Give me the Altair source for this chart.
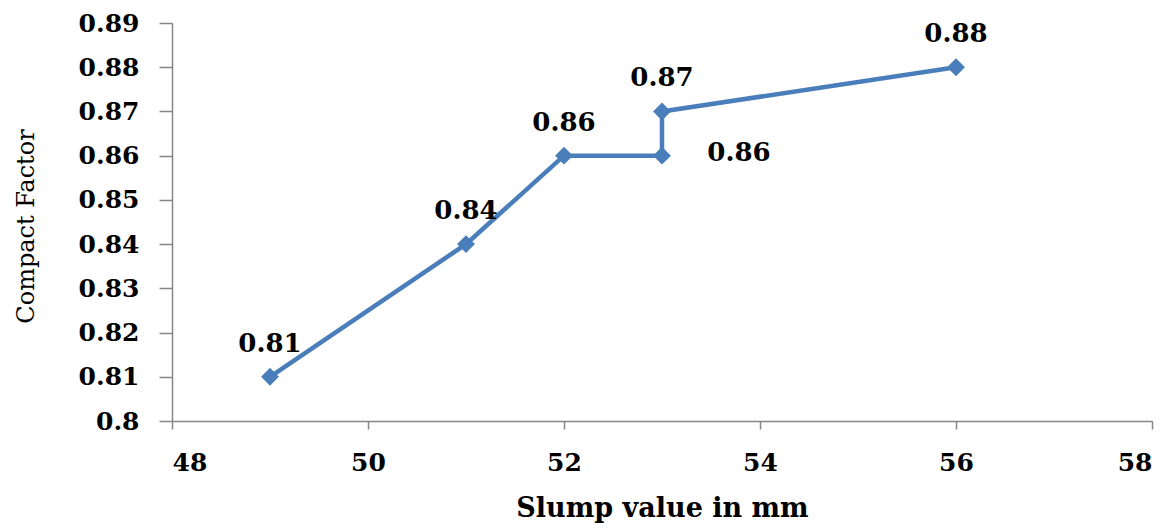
import altair as alt
import pandas as pd

slump = [49, 51, 52, 53, 53, 56]
compact = [0.81, 0.84, 0.86, 0.86, 0.87, 0.88]
order = [1, 2, 3, 4, 5, 6]
label_side = ["above", "above", "above", "right", "above", "above"]

df = pd.DataFrame({"slump": slump, "cf": compact, "ord": order, "side": label_side})
df["lab"] = df["cf"].map(lambda v: f"{v:.2f}")

FONT = "DejaVu Serif"
BLUE = "#4A7EBB"
GRAY = "#868686"

x = alt.X("slump:Q", scale=alt.Scale(domain=[48, 58], nice=False, zero=False),
          axis=alt.Axis(values=[48, 50, 52, 54, 56, 58], title="Slump value in mm",
                        grid=False, domainColor=GRAY, tickColor=GRAY, tickSize=8,
                        domainWidth=1.5, tickWidth=1.5,
                        labelFont=FONT, labelFontWeight="bold", labelFontSize=25,
                        labelColor="black", labelPadding=21,
                        titleFont=FONT, titleFontWeight="bold", titleFontSize=27,
                        titleColor="black", titlePadding=20))
y = alt.Y("cf:Q", scale=alt.Scale(domain=[0.8, 0.89], nice=False, zero=False),
          axis=alt.Axis(values=[0.8, 0.81, 0.82, 0.83, 0.84, 0.85, 0.86, 0.87, 0.88, 0.89],
                        labelExpr="datum.value == 0.8 ? '0.8' : format(datum.value, '.2f')",
                        title="Compact Factor", grid=False, domainColor=GRAY, tickColor=GRAY,
                        tickSize=13, domainWidth=1.5, tickWidth=1.5,
                        labelFont=FONT, labelFontWeight="bold", labelFontSize=25,
                        labelColor="black", labelPadding=20,
                        titleFont=FONT, titleFontWeight="normal", titleFontSize=24,
                        titleColor="black", titleAngle=-90, titleX=-146, titleY=203,
                        titleAlign="center", titleBaseline="middle"))

base = alt.Chart(df)
line = base.mark_line(color=BLUE, strokeWidth=4.5).encode(x=x, y=y, order="ord:Q")
pts = base.mark_point(shape="diamond", filled=True, color=BLUE, size=320, opacity=1).encode(x=x, y=y)
above = base.transform_filter("datum.side == 'above'").mark_text(
    font=FONT, fontWeight="bold", fontSize=26, color="black", dy=-33
).encode(x=x, y=y, text="lab:N")
right = base.transform_filter("datum.side == 'right'").mark_text(
    font=FONT, fontWeight="bold", fontSize=26, color="black", dx=77, dy=-3
).encode(x=x, y=y, text="lab:N")

chart = alt.layer(line, pts, above, right).properties(
    width=980, height=398,
    autosize=alt.AutoSizeParams(type="none"),
    padding={"left": 164, "top": 15, "right": 10, "bottom": 106},
).configure_view(stroke=None)

chart.save("out.html", embed_options={"renderer": "svg", "actions": False})
